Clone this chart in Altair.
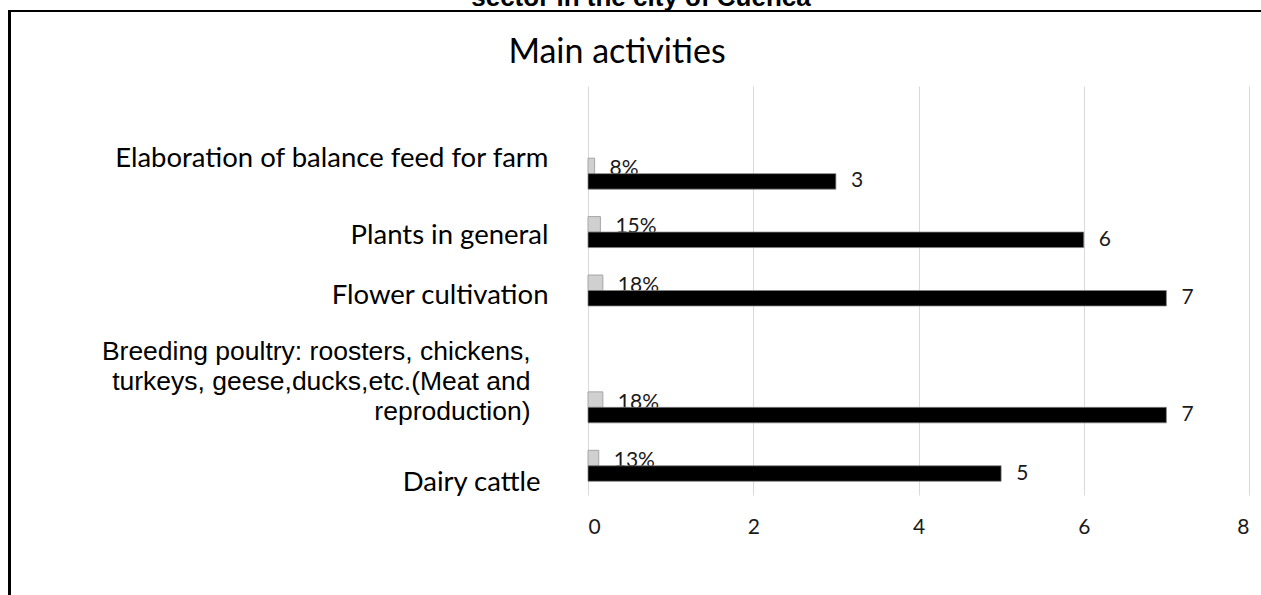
import altair as alt
import pandas as pd

# Category slots, top to bottom (two slots are left blank)
categories = [
    "",
    "Elaboration of balance feed for farm",
    "Plants in general",
    "Flower cultivation",
    " ",
    "Breeding poultry: roosters, chickens,|turkeys, geese,ducks,etc.(Meat and|reproduction)",
    "Dairy cattle",
]

# Activities that carry values
activities = [
    "Elaboration of balance feed for farm",
    "Plants in general",
    "Flower cultivation",
    "Breeding poultry: roosters, chickens,|turkeys, geese,ducks,etc.(Meat and|reproduction)",
    "Dairy cattle",
]
counts = [3, 6, 7, 7, 5]
shares = [0.08, 0.15, 0.18, 0.18, 0.13]

x_ticks = [0, 2, 4, 6, 8]

rows = []
for a, s, c in zip(activities, shares, counts):
    rows.append({"activity": a, "series": "share", "value": s})
    rows.append({"activity": a, "series": "count", "value": c})
df = pd.DataFrame(rows)

label_offset = {
    "condition": [
        {"test": "indexof(datum.value, 'Elaboration') === 0", "value": -15},
        {"test": "indexof(datum.value, 'Breeding') === 0", "value": -55},
        {"test": "datum.value === 'Dairy cattle'", "value": 17},
        {"test": "datum.value === 'Plants in general'", "value": 4},
        {"test": "datum.value === 'Flower cultivation'", "value": 5},
    ],
    "value": 0,
}
label_padding = {
    "condition": [
        {"test": "indexof(datum.value, 'Breeding') === 0", "value": 58},
        {"test": "datum.value === 'Dairy cattle'", "value": 48},
    ],
    "value": 40,
}
label_font = {
    "condition": {"test": "indexof(datum.value, 'Breeding') === 0", "value": "Liberation Sans"},
    "value": "Lato",
}
label_size = {
    "condition": {"test": "indexof(datum.value, 'Breeding') === 0", "value": 26.5},
    "value": 27.5,
}

base = alt.Chart(df).encode(
    y=alt.Y(
        "activity:N",
        scale=alt.Scale(domain=categories, paddingInner=0.47, paddingOuter=0.235),
        axis=alt.Axis(
            title=None,
            domain=False,
            ticks=False,
            grid=False,
            labelExpr="split(datum.label, '|')",
            labelAlign="right",
            labelBaseline="middle",
            labelLineHeight=30,
            labelLimit=700,
            labelColor="#000000",
            labelFont=label_font,
            labelFontSize=label_size,
            labelOffset=label_offset,
            labelPadding=label_padding,
        ),
    ),
    yOffset=alt.YOffset(
        "series:N",
        scale=alt.Scale(domain=["share", "count"], paddingInner=0, paddingOuter=0),
    ),
    x=alt.X(
        "value:Q",
        scale=alt.Scale(domain=[0, 8], nice=False, zero=True),
        axis=alt.Axis(
            title=None,
            values=x_ticks,
            domain=False,
            ticks=False,
            grid=True,
            gridColor="#d9d9d9",
            gridWidth=1,
            labelFont="Lato",
            labelFontSize=21,
            labelColor="#1a1a1a",
            labelPadding=21,
            format="d",
        ),
    ),
)

share_only = "datum.series === 'share'"
count_only = "datum.series === 'count'"

share_bars = base.transform_filter(share_only).mark_bar(
    color="#d0d0d0", stroke="#a6a6a6", strokeWidth=1
)
share_text = base.transform_filter(share_only).mark_text(
    align="left", baseline="middle", dx=15, dy=3,
    font="Lato", fontSize=21, color="#1a1a1a",
).encode(text=alt.Text("value:Q", format=".0%"))

count_bars = base.transform_filter(count_only).mark_bar(
    color="#000000", stroke="#808080", strokeWidth=0.75
)
count_text = base.transform_filter(count_only).mark_text(
    align="left", baseline="middle", dx=15,
    font="Lato", fontSize=21, color="#1a1a1a",
).encode(text=alt.Text("value:Q", format="d"))

# Chart-area frame, the heading line above it and the chart title
frame_df = pd.DataFrame({"k": [0]})
left_edge = alt.Chart(frame_df).mark_rule(color="#000000", strokeWidth=3).encode(
    x=alt.value(-578.5), y=alt.value(-76), y2=alt.value(520)
)
top_edge = alt.Chart(frame_df).mark_rule(color="#000000", strokeWidth=2).encode(
    x=alt.value(-580), x2=alt.value(700), y=alt.value(-75)
)
heading = alt.Chart(frame_df).mark_text(
    text="sector in the city of Cuenca",
    font="Liberation Sans", fontWeight="bold", fontSize=26,
    align="center", baseline="alphabetic", color="#000000",
).encode(x=alt.value(53), y=alt.value(-80))
title = alt.Chart(frame_df).mark_text(
    text="Main activities",
    font="Lato", fontSize=34, fontWeight="normal",
    align="center", baseline="middle", color="#000000",
).encode(x=alt.value(29), y=alt.value(-33))

chart = alt.layer(
    left_edge, top_edge, heading, title,
    share_bars, share_text, count_bars, count_text,
).properties(
    width=661,
    height=409,
    autosize=alt.AutoSizeParams(type="none"),
    padding={"left": 588, "top": 86, "right": 12, "bottom": 100},
    background="white",
).configure_view(stroke=None)

chart.save("out.html", embed_options={"renderer": "svg", "actions": False})
